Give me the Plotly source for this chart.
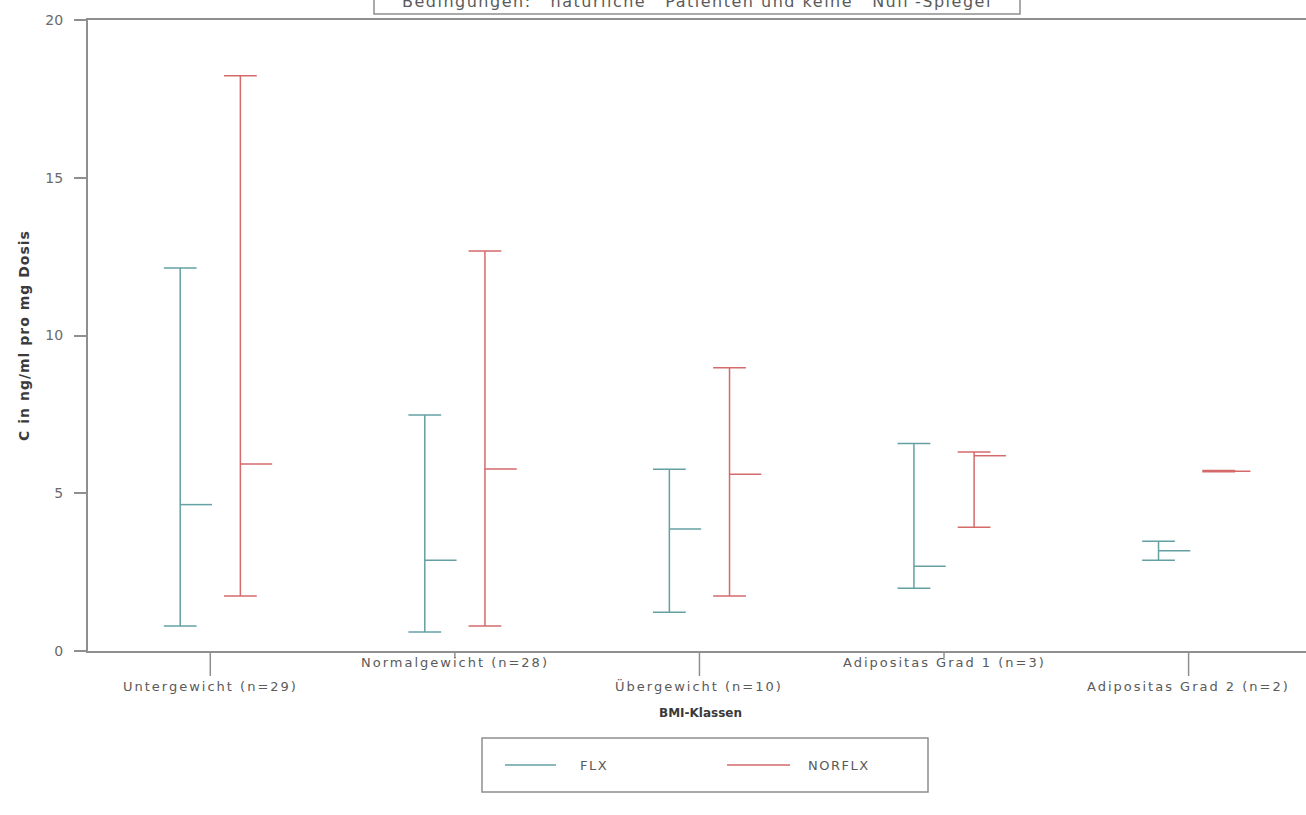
import plotly.graph_objects as go

# ---- data ----
categories = ["Untergewicht (n=29)", "Normalgewicht (n=28)", "Übergewicht (n=10)",
              "Adipositas Grad 1 (n=3)", "Adipositas Grad 2 (n=2)"]
flx_min = [0.79, 0.60, 1.23, 1.99, 2.88]
flx_mid = [4.64, 2.88, 3.87, 2.69, 3.18]
flx_max = [12.14, 7.48, 5.76, 6.58, 3.48]
norflx_min = [1.74, 0.79, 1.74, 3.92, 5.68]
norflx_mid = [5.93, 5.77, 5.60, 6.19, 5.70]
norflx_max = [18.23, 12.68, 8.98, 6.31, 5.72]
series_names = ["FLX", "NORFLX"]
y_ticks = [0, 5, 10, 15, 20]
title_text = "Bedingungen:  'natürliche'  Patienten und keine  'Null'-Spiegel"

W, H = 1306, 815
PLOT_L, PLOT_T, PLOT_B = 88, 20, 651          # page pixels
ML, MT = PLOT_L, PLOT_T
MB = H - PLOT_B
MR = 0
PH = H - MT - MB
PW = W - ML - MR

COL = {"FLX": "#64a0a3", "NORFLX": "#d46a6a"}
AXC = "#8f8f8f"
TXT = "#5a5a5a"
FONT = "DejaVu Sans, Verdana, sans-serif"

OFF = {"FLX": -0.123, "NORFLX": 0.123}
CAP = 0.067
MED = 0.13


def spaced(text, ls):
    return "<span style='letter-spacing:%spx'>%s</span>" % (ls, text)


def hilo_xy(lo, mid, hi, off):
    xs, ys = [], []
    for i in range(len(lo)):
        c = i + off
        xs += [c, c, None, c - CAP, c + CAP, None, c - CAP, c + CAP, None, c, c + MED, None]
        ys += [lo[i], hi[i], None, lo[i], lo[i], None, hi[i], hi[i], None, mid[i], mid[i], None]
    return xs, ys


fig = go.Figure()
for name, lo, mid, hi in [("FLX", flx_min, flx_mid, flx_max),
                          ("NORFLX", norflx_min, norflx_mid, norflx_max)]:
    xs, ys = hilo_xy(lo, mid, hi, OFF[name])
    fig.add_trace(go.Scatter(x=xs, y=ys, mode="lines", name=name,
                             line=dict(color=COL[name], width=1.5),
                             connectgaps=False, hoverinfo="skip",
                             showlegend=False))


def py(page_y):
    """page pixel y to paper y"""
    return (PLOT_B - page_y) / PH


def px(page_x):
    """page pixel x to paper x"""
    return (page_x - PLOT_L) / PW


shapes = []
annotations = []
for i, cat in enumerate(categories):
    low = (i % 2 == 0)
    tick_end = 676 if low else 658
    lab_y = 686 if low else 662
    shapes.append(dict(type="line", xref="x", yref="paper", x0=i, x1=i,
                       y0=0, y1=py(tick_end), line=dict(color=AXC, width=1.5)))
    annotations.append(dict(x=i, y=py(lab_y), xref="x", yref="paper",
                            text=spaced(cat, 2),
                            showarrow=False, yanchor="middle", xanchor="center",
                            font=dict(size=13, color=TXT, family=FONT)))

annotations.append(dict(x=px(700), y=py(713), xref="paper", yref="paper",
                        text="<b>BMI-Klassen</b>", showarrow=False,
                        yanchor="middle",
                        font=dict(size=12, color="#3a3a3a", family=FONT)))

# title box (cut off at the top of the page)
shapes.append(dict(type="rect", xref="paper", yref="paper",
                   x0=px(374), x1=px(1020), y0=py(14), y1=py(-30),
                   line=dict(color=AXC, width=1.5), fillcolor="rgba(0,0,0,0)"))
annotations.append(dict(x=px(697), y=py(2), xref="paper", yref="paper",
                        text=spaced(title_text, 1.5),
                        showarrow=False, yanchor="middle", xanchor="center",
                        font=dict(size=16, color=TXT, family=FONT)))

# legend: frame, sample lines and labels
shapes.append(dict(type="rect", xref="paper", yref="paper",
                   x0=px(482), x1=px(928), y0=py(792), y1=py(738),
                   line=dict(color=AXC, width=1.5), fillcolor="rgba(0,0,0,0)"))
legend_pos = {"FLX": (505, 556, 578), "NORFLX": (727, 790, 806)}
for name in series_names:
    x0, x1, xt = legend_pos[name]
    shapes.append(dict(type="line", xref="paper", yref="paper",
                       x0=px(x0), x1=px(x1), y0=py(765), y1=py(765),
                       line=dict(color=COL[name], width=1.5)))
    annotations.append(dict(x=px(xt), y=py(765), xref="paper", yref="paper",
                            text=spaced(name, 1.5), showarrow=False,
                            xanchor="left", yanchor="middle",
                            font=dict(size=13, color=TXT, family=FONT)))

fig.update_layout(
    width=W, height=H,
    margin=dict(l=ML, r=MR, t=MT, b=MB),
    paper_bgcolor="white", plot_bgcolor="white",
    font=dict(family=FONT, size=13, color=TXT),
    xaxis=dict(range=[-0.5, 4.48], showticklabels=False, ticks="",
               showgrid=False, zeroline=False, showline=True, mirror=True,
               linecolor=AXC, linewidth=2, automargin=False),
    yaxis=dict(range=[0, 20], tickvals=y_ticks, ticks="outside", ticklen=12,
               tickcolor=AXC, tickwidth=1.5, showgrid=False, zeroline=False,
               showline=True, linecolor=AXC, linewidth=2, automargin=False,
               ticklabelstandoff=8,
               tickfont=dict(size=14, color="#6a6a6a", family=FONT),
               title=dict(text="<b>" + spaced("C in ng/ml pro mg Dosis", 1) + "</b>",
                          standoff=12,
                          font=dict(size=14, color="#3a3a3a", family=FONT))),
    showlegend=False,
    shapes=shapes, annotations=annotations,
)

# remove the browser's default 8 px body margin so the figure fills the window
fig.write_html("out.html",
               config={"displayModeBar": False},
               post_script="document.body.style.margin='0';document.body.style.overflow='hidden';")
